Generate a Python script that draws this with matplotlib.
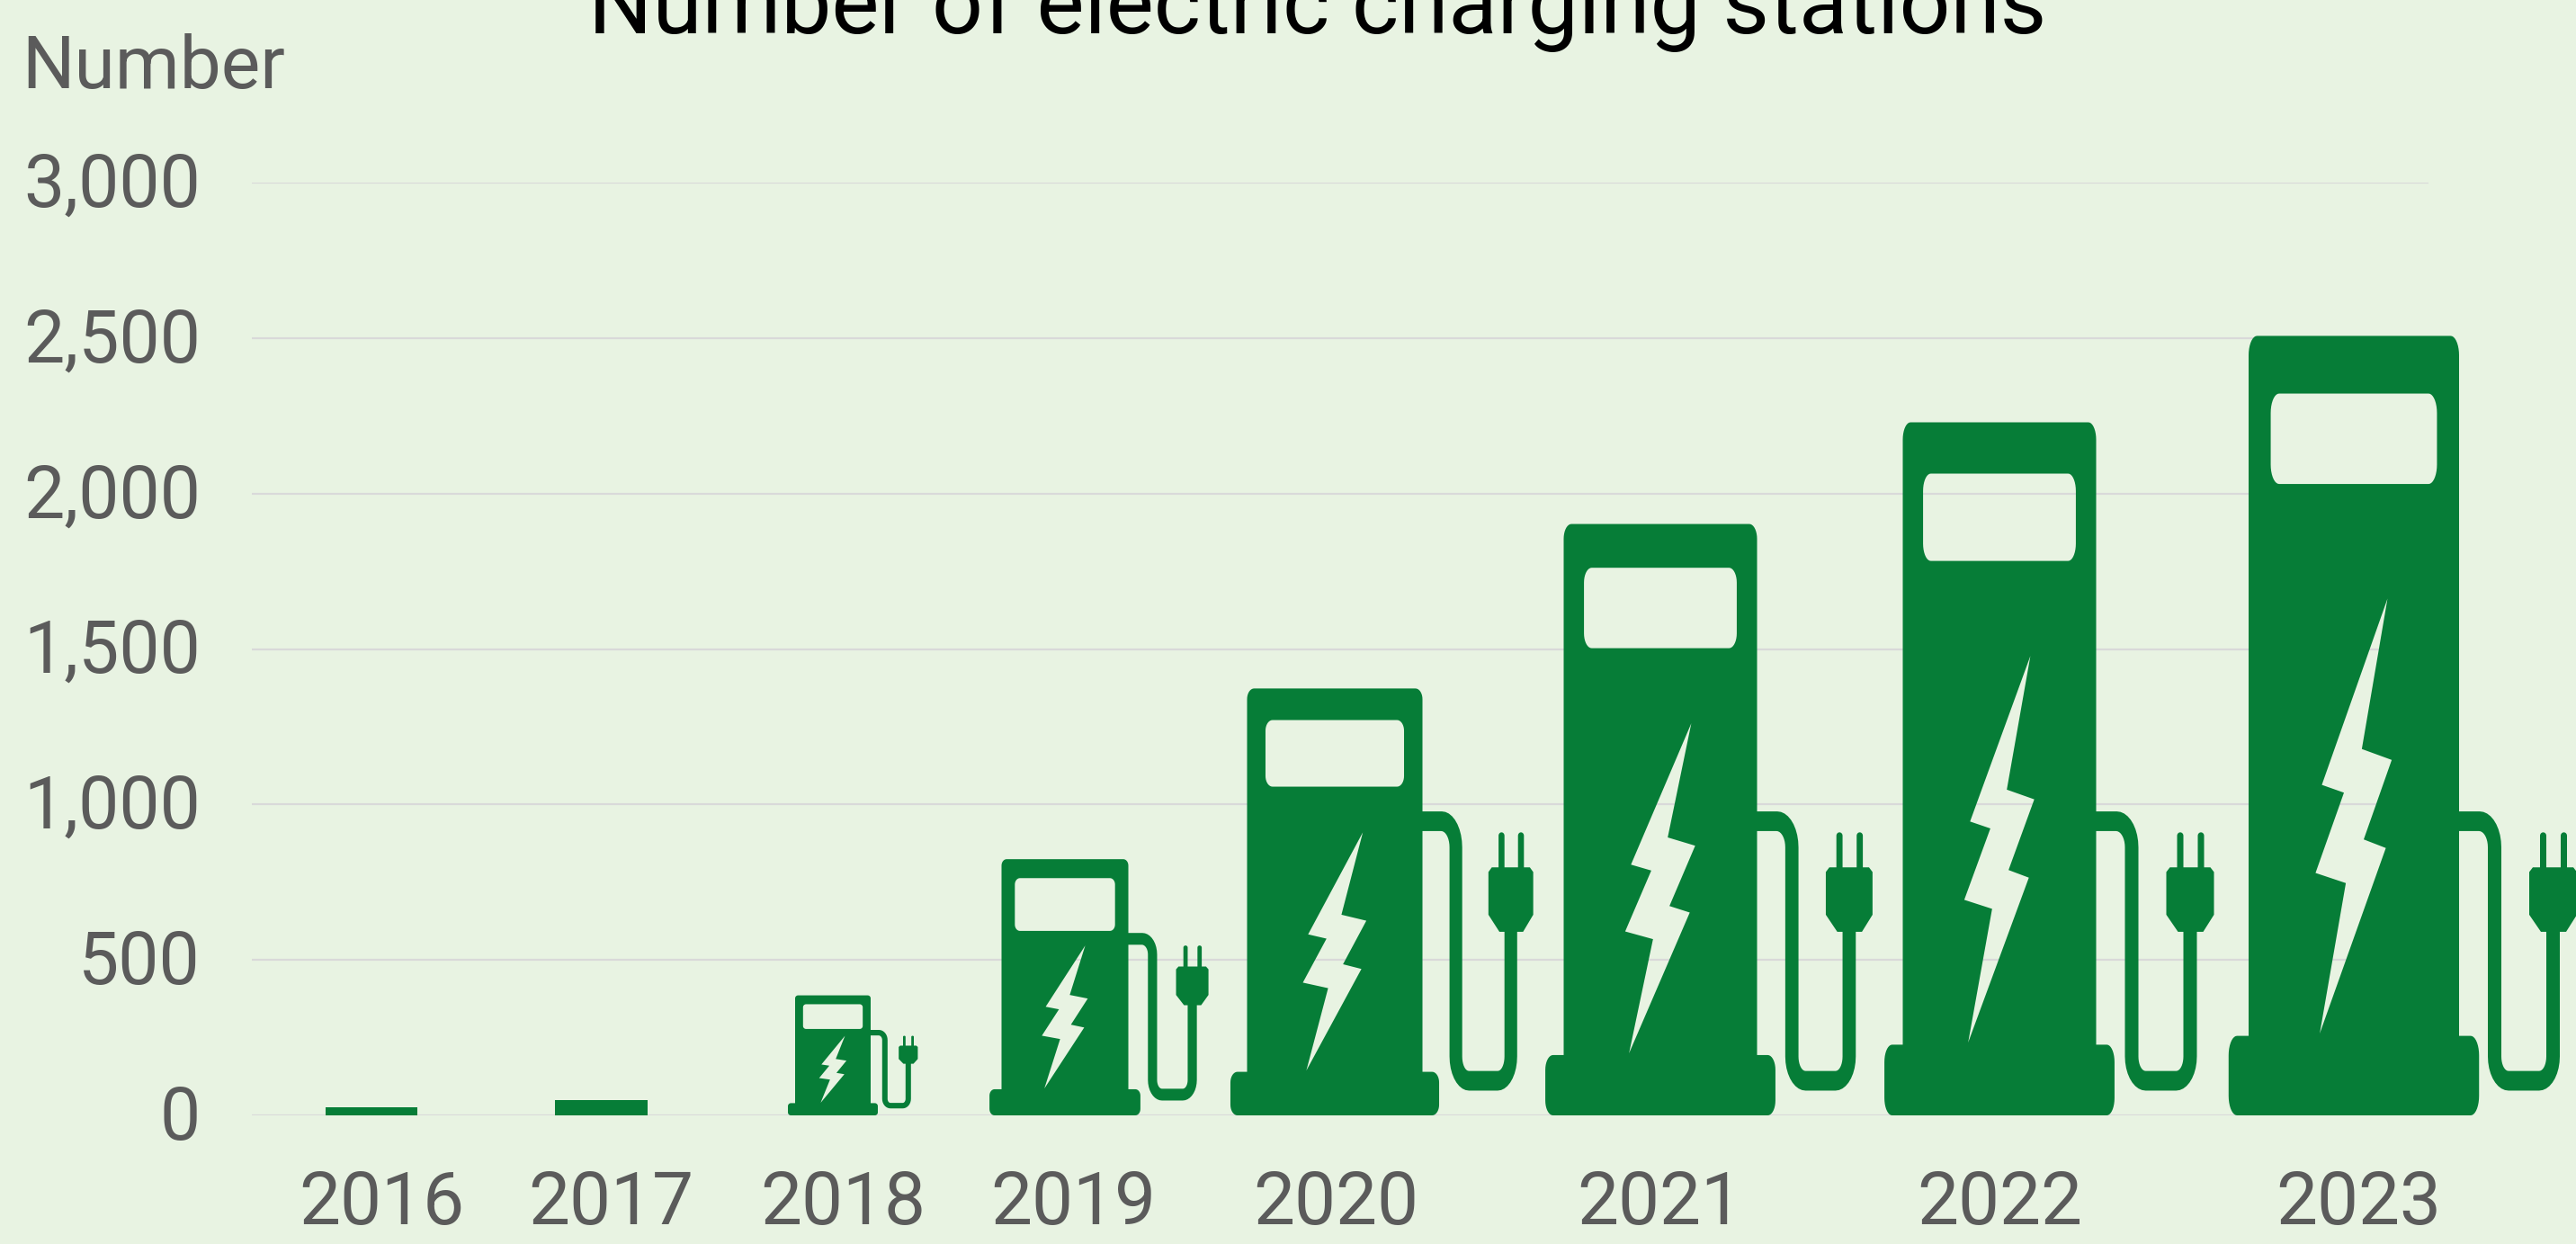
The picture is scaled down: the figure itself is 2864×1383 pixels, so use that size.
import numpy as np
import matplotlib
matplotlib.use("Agg")
import matplotlib.pyplot as plt
from matplotlib.patches import PathPatch
from matplotlib.path import Path
from matplotlib.transforms import ScaledTranslation

# values
years = ["2016", "2017", "2018", "2019", "2020", "2021", "2022", "2023"]
stations = [26, 49, 386, 824, 1373, 1902, 2229, 2507]
y_ticks = [0, 500, 1000, 1500, 2000, 2500, 3000]

# layout, x units are pixels of the figure
label_x = [424, 679, 937, 1193, 1485, 1845, 2223, 2622]
body_x = [413, 668, 926, 1184, 1484, 1846, 2223, 2617]
body_w = [102, 103, 84, 141, 195, 215, 215, 234]
cable_w = [0, 0, 0.40, 0.68, 0.94, 0.98, 1.0, 1.0]
screen_bottom = [0, 0, 0.72, 0.72, 0.77, 0.79, 0.80, 0.81]

BG = "#e8f3e2"
GREEN = "#067d37"
GRAY = "#5b5b5b"
GRID = "#d9d9d9"
CABLE_MAX = 1373

plt.rcParams["font.family"] = ["Roboto", "DejaVu Sans"]


def arc(cx, cy, rx, ry, a0, a1, n=10):
    t = np.radians(np.linspace(a0, a1, n))
    return np.column_stack([cx + rx * np.cos(t), cy + ry * np.sin(t)])


def round_rect(x0, x1, y0, y1, rx, ry):
    return np.vstack([
        arc(x1 - rx, y0 + ry, rx, ry, -90, 0),
        arc(x1 - rx, y1 - ry, rx, ry, 0, 90),
        arc(x0 + rx, y1 - ry, rx, ry, 90, 180),
        arc(x0 + rx, y0 + ry, rx, ry, 180, 270),
    ])


def area(pts):
    x, y = pts[:, 0], pts[:, 1]
    return 0.5 * np.sum(x * np.roll(y, -1) - np.roll(x, -1) * y)


def compound(outer, holes):
    verts, codes = [], []
    for i, p in enumerate([outer] + holes):
        want_ccw = i == 0
        if (area(p) > 0) != want_ccw:
            p = p[::-1]
        verts += list(p) + [p[0]]
        codes += [Path.MOVETO] + [Path.LINETO] * (len(p) - 1) + [Path.CLOSEPOLY]
    return Path(np.array(verts), codes)


def add(ax, path):
    ax.add_patch(PathPatch(path, fc=GREEN, ec="none", lw=0, clip_on=False, zorder=3))


def draw_icon(ax, cx, w, h, cw, sb):
    x0, x1 = cx - w / 2, cx + w / 2
    rx, ry = 0.04 * w, 0.025 * h

    # body with screen and bolt cut out
    outer = round_rect(x0, x1, 0, h, rx, ry)
    screen = round_rect(x0 + 0.105 * w, x1 - 0.105 * w, sb * h, 0.926 * h, rx, ry)
    bx = [0.66, 0.538, 0.68, 0.547, 0.652, 0.338, 0.462, 0.318, 0.453, 0.348]
    by = [0.663, 0.47, 0.456, 0.354, 0.343, 0.105, 0.298, 0.311, 0.414, 0.424]
    bolt = np.column_stack([x0 + np.array(bx) * w, np.array(by) * h])
    add(ax, compound(outer, [screen, bolt]))

    # base
    over = 0.095 * w
    add(ax, compound(round_rect(x0 - over, x1 + over, 0, 0.102 * h, rx, ry), []))

    # cable and plug keep their size once the body gets tall
    H = min(h, CABLE_MAX)
    X = lambda a: x1 + np.asarray(a) * cw
    V = lambda a: np.asarray(a) * H

    def a_(cx_, cy_, rx_, ry_, a0, a1):
        p = arc(cx_, cy_, rx_, ry_, a0, a1)
        return np.column_stack([X(p[:, 0]), V(p[:, 1])])

    cable = np.vstack([
        [[x1 - 3, V(0.712)]],
        a_(23, 0.628, 24, 0.084, 90, 0),
        a_(55, 0.138, 8, 0.034, 180, 270),
        a_(89, 0.138, 8, 0.034, 270, 360),
        [[X(97), V(0.45)], [X(112), V(0.45)]],
        a_(89, 0.138, 23, 0.08, 0, -90),
        a_(55, 0.138, 23, 0.08, 270, 180),
        a_(22, 0.628, 10, 0.038, 0, 90),
        [[x1 - 3, V(0.666)]],
    ])
    add(ax, compound(cable, []))

    plug = np.column_stack([
        X([78, 91, 119, 131, 131, 127, 82, 78]),
        V([0.47, 0.43, 0.43, 0.47, 0.57, 0.581, 0.581, 0.57]),
    ])
    add(ax, compound(plug, []))
    for a, b in [(90, 97), (113, 120)]:
        prong = round_rect(X(a), X(b), V(0.57), V(0.663), (X(b) - X(a)) / 2, 0.008 * H)
        add(ax, compound(prong, []))


fig = plt.figure(figsize=(28.64, 13.83), dpi=100, facecolor=BG)
ax = fig.add_axes([280 / 2864, 1 - 1240 / 1383, 2420 / 2864, 1037 / 1383], facecolor=BG)
ax.set_xlim(280, 2700)
ax.set_ylim(0, 3000)

ax.bar(body_x[:2], stations[:2], width=body_w[:2], color=GREEN, zorder=3)
for i in range(2, len(years)):
    draw_icon(ax, body_x[i], body_w[i], stations[i], cable_w[i], screen_bottom[i])

ax.set_yticks(y_ticks, [f"{v:,}" for v in y_ticks])
ax.set_xticks(label_x, years)
ax.tick_params(axis="y", length=0, pad=41, labelsize=58, labelcolor=GRAY)
ax.tick_params(axis="x", length=0, pad=43, labelsize=59, labelcolor=GRAY)
ax.grid(axis="y", color=GRID, lw=1.6, zorder=1)
ax.set_axisbelow(True)
for s in ax.spines.values():
    s.set_visible(False)

up = ScaledTranslation(0, 4 / 100, fig.dpi_scale_trans)
for lab in ax.get_yticklabels():
    lab.set_transform(lab.get_transform() + up)

fig.text(24 / 2864, 1 - 98 / 1383, "Number", fontsize=59, color=GRAY, ha="left", va="baseline")
fig.text(1465 / 2864, 1 - 37 / 1383, "Number of electric charging stations", fontsize=72,
         color="black", ha="center", va="baseline")

fig.savefig("out.png", dpi=100, facecolor=BG)
